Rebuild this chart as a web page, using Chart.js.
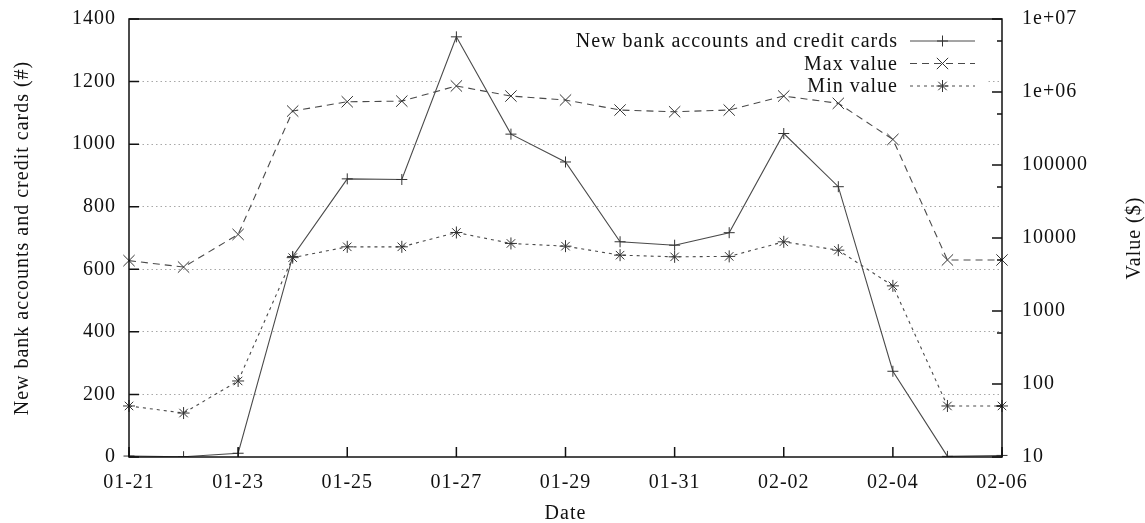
<!DOCTYPE html>
<html>
<head>
<meta charset="utf-8">
<script src="https://cdn.jsdelivr.net/npm/chart.js@4.4.1/dist/chart.umd.min.js"></script>
<style>
  html, body { margin: 0; padding: 0; background: #fff; }
  canvas { display: block; }
</style>
</head>
<body>
<canvas id="chart" width="1145" height="523"></canvas>
<script>
// Daily dates on the x axis
const dates = ['01-21', '01-22', '01-23', '01-24', '01-25', '01-26', '01-27', '01-28', '01-29',
               '01-30', '01-31', '02-01', '02-02', '02-03', '02-04', '02-05', '02-06'];

// New bank accounts and credit cards (#), left axis
const newAccounts = [3, 1, 12, 641, 889, 887, 1343, 1032, 943, 688, 677, 717, 1034, 864, 274, 2, 5];

// Max / min value ($), right log axis
const maxValue = [4900, 4000, 11200, 548000, 735000, 750000, 1210000, 880000, 776000,
                  566000, 536000, 566000, 880000, 699000, 224000, 5000, 5000];
const minValue = [50, 40, 110, 5380, 7570, 7570, 11900, 8420, 7730,
                  5820, 5520, 5600, 8860, 6810, 2210, 50, 50];

// Axis ticks
const leftTickValues = [0, 200, 400, 600, 800, 1000, 1200, 1400];
const rightTickValues = [10, 100, 1000, 10000, 100000, 1000000, 10000000];
const rightTickLabels = ['10', '100', '1000', '10000', '100000', '1e+06', '1e+07'];
const rightMinorValues = [50, 500, 5000, 50000, 500000, 5000000];

const FAMILY = '"Liberation Serif", "Times New Roman", serif';
const INK = '#111';
const LINE = '#4a4a4a';
const MARK = '#333';
const SPACING = '1px';
const FONT_SIZE = 20;
const font = { family: FAMILY, size: FONT_SIZE };

const seriesStyles = [
  { label: 'New bank accounts and credit cards', dash: [], pointStyle: 'cross', radius: 5.5 },
  { label: 'Max value', dash: [7, 5], pointStyle: 'crossRot', radius: 8 },
  { label: 'Min value', dash: [3, 4], pointStyle: 'star', radius: 6 }
];

// Slightly wider letter spacing for all canvas text
const spacing = {
  id: 'spacing',
  beforeLayout(chart) { chart.ctx.letterSpacing = SPACING; },
  beforeDraw(chart) { chart.ctx.letterSpacing = SPACING; }
};

function marker(ctx, style, radius, x, y) {
  if (Chart.helpers && Chart.helpers.drawPoint) {
    Chart.helpers.drawPoint(ctx, { pointStyle: style, radius: radius, rotation: 0, borderWidth: 1 }, x, y);
    return;
  }
  ctx.beginPath();
  const d = radius * Math.SQRT1_2;
  if (style !== 'crossRot') { ctx.moveTo(x - radius, y); ctx.lineTo(x + radius, y); ctx.moveTo(x, y - radius); ctx.lineTo(x, y + radius); }
  if (style !== 'cross') { ctx.moveTo(x - d, y - d); ctx.lineTo(x + d, y + d); ctx.moveTo(x - d, y + d); ctx.lineTo(x + d, y - d); }
  ctx.stroke();
}

// Frame, inward ticks, key box and the right-hand axis title
const frame = {
  id: 'frame',
  beforeDatasetsDraw(chart) {
    const ctx = chart.ctx;
    ctx.save();
    ctx.fillStyle = '#fff';
    ctx.fillRect(437, 24, 551, 74);
    ctx.restore();
  },
  afterDatasetsDraw(chart) {
    const { ctx, chartArea: a, scales } = chart;
    ctx.save();
    ctx.strokeStyle = INK;
    ctx.lineWidth = 1.5;
    ctx.strokeRect(a.left, a.top, a.right - a.left, a.bottom - a.top);
    ctx.beginPath();
    leftTickValues.forEach(v => {
      const y = scales.y.getPixelForValue(v);
      ctx.moveTo(a.left, y); ctx.lineTo(a.left + 10, y);
    });
    rightTickValues.forEach(v => {
      const y = scales.y2.getPixelForValue(v);
      ctx.moveTo(a.right, y); ctx.lineTo(a.right - 10, y);
    });
    rightMinorValues.forEach(v => {
      const y = scales.y2.getPixelForValue(v);
      ctx.moveTo(a.right, y); ctx.lineTo(a.right - 5, y);
    });
    dates.forEach((d, i) => {
      if (i % 2 === 0) {
        const x = scales.x.getPixelForValue(i);
        ctx.moveTo(x, a.bottom); ctx.lineTo(x, a.bottom - 10);
      }
    });
    ctx.stroke();

    // key
    ctx.font = FONT_SIZE + 'px ' + FAMILY;
    ctx.fillStyle = INK;
    ctx.textAlign = 'right';
    ctx.textBaseline = 'middle';
    const rows = [41, 63.5, 86];
    seriesStyles.forEach((s, i) => {
      const y = rows[i];
      ctx.fillText(s.label, 898, y + 1);
      ctx.strokeStyle = LINE;
      ctx.lineWidth = 1;
      ctx.setLineDash(s.dash);
      ctx.beginPath();
      ctx.moveTo(910, y); ctx.lineTo(975, y);
      ctx.stroke();
      ctx.setLineDash([]);
      ctx.strokeStyle = MARK;
      marker(ctx, s.pointStyle, s.radius, 942.5, y);
    });

    // right axis title, reading upwards
    ctx.translate(1135, (a.top + a.bottom) / 2);
    ctx.rotate(-Math.PI / 2);
    ctx.textAlign = 'center';
    ctx.fillStyle = INK;
    ctx.fillText('Value ($)', 0, 0);
    ctx.restore();
  }
};

const datasetFrom = (values, style, axis) => ({
  label: style.label,
  data: values,
  yAxisID: axis,
  borderColor: LINE,
  borderWidth: 1.1,
  borderDash: style.dash,
  pointStyle: style.pointStyle,
  pointRadius: style.radius,
  pointBorderColor: MARK,
  pointBorderWidth: 1,
  pointBackgroundColor: MARK,
  tension: 0,
  fill: false
});

const noVerticalPadding = s => { s.paddingTop = 0; s.paddingBottom = 0; };

new Chart(document.getElementById('chart'), {
  type: 'line',
  data: {
    labels: dates,
    datasets: [
      datasetFrom(newAccounts, seriesStyles[0], 'y'),
      datasetFrom(maxValue, seriesStyles[1], 'y2'),
      datasetFrom(minValue, seriesStyles[2], 'y2')
    ]
  },
  options: {
    responsive: false,
    animation: false,
    devicePixelRatio: 1,
    layout: { padding: { top: 19, left: 0, right: 0, bottom: 0 } },
    plugins: { legend: { display: false }, tooltip: { enabled: false } },
    scales: {
      x: {
        type: 'category',
        offset: false,
        grid: { display: false, drawTicks: false },
        border: { display: false },
        ticks: {
          autoSkip: false, maxRotation: 0, padding: 14, color: INK, font: font,
          callback: (v, i) => (i % 2 === 0 ? dates[i] : '')
        },
        title: { display: true, text: 'Date', color: INK, font: font, padding: { top: 0, bottom: -3 } },
        afterFit: s => { s.height = 66; s.paddingLeft = 0; s.paddingRight = 0; }
      },
      y: {
        type: 'linear',
        position: 'left',
        min: 0,
        max: 1400,
        afterBuildTicks: s => { s.ticks = leftTickValues.map(v => ({ value: v })); },
        ticks: { padding: 13, color: INK, font: font, callback: v => String(v) },
        grid: {
          drawTicks: false,
          lineWidth: 1,
          color: c => (c.tick && c.tick.value > 0 && c.tick.value < 1400) ? '#a8a8a8' : 'rgba(0,0,0,0)'
        },
        border: { display: false, dash: [1.5, 3] },
        title: {
          display: true, text: 'New bank accounts and credit cards (#)', color: INK, font: font,
          padding: { top: 11, bottom: 0 }
        },
        afterFit: s => { s.width = 129; noVerticalPadding(s); }
      },
      y2: {
        type: 'logarithmic',
        position: 'right',
        min: 10,
        max: 10000000,
        afterBuildTicks: s => { s.ticks = rightTickValues.map(v => ({ value: v })); },
        ticks: {
          padding: 20, color: INK, font: font, autoSkip: false,
          callback: v => { const i = rightTickValues.indexOf(v); return i >= 0 ? rightTickLabels[i] : ''; }
        },
        grid: { drawOnChartArea: false, drawTicks: false },
        border: { display: false },
        afterFit: s => { s.width = 143; noVerticalPadding(s); }
      }
    }
  },
  plugins: [spacing, frame]
});
</script>
</body>
</html>
